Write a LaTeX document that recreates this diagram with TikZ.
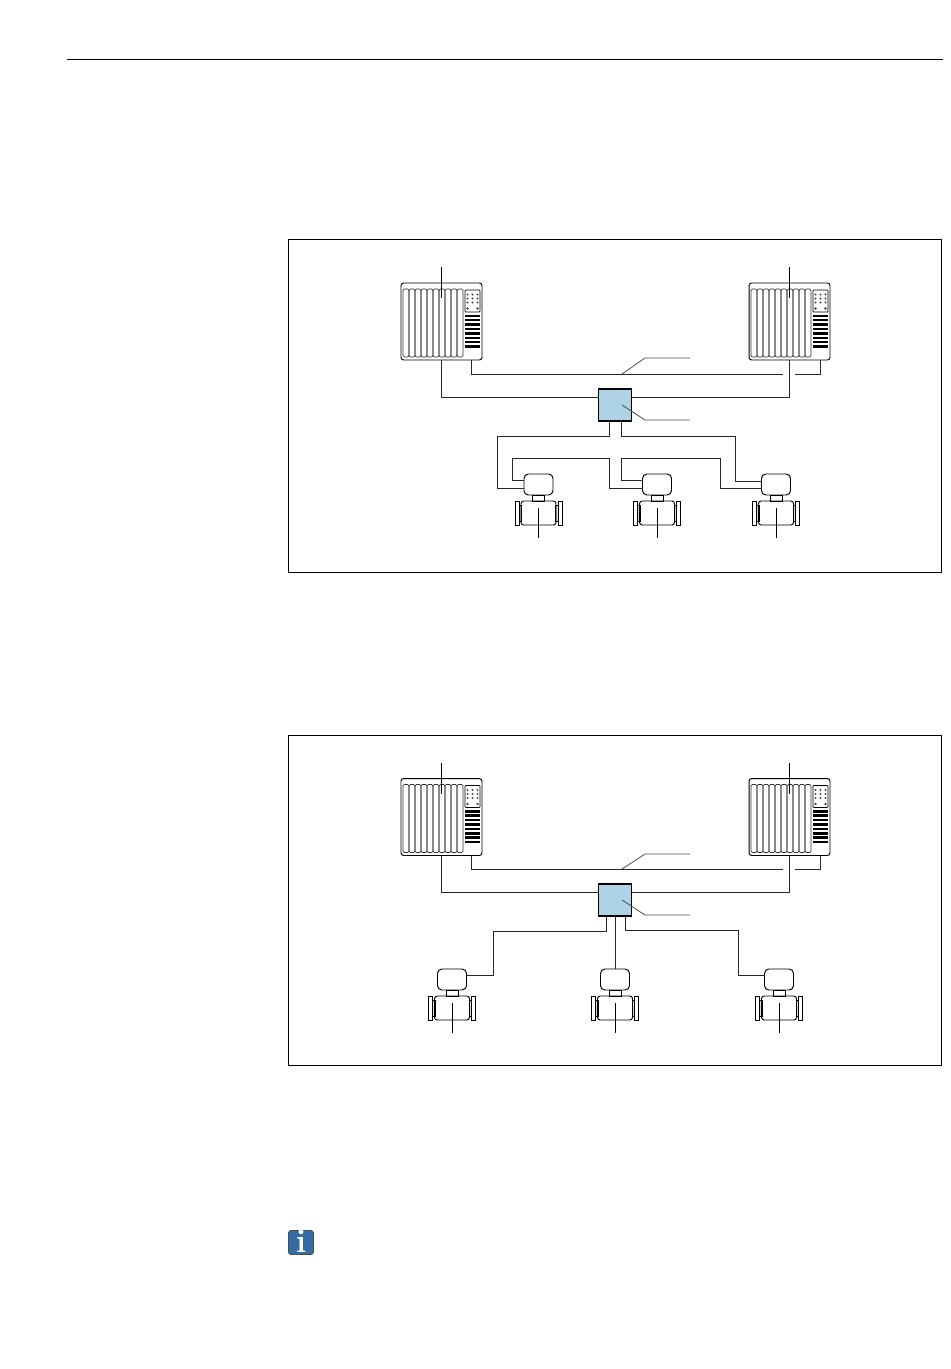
\documentclass[tikz,border=0pt]{standalone}
\usepackage{tikz}
\usetikzlibrary{positioning, arrows.meta, calc}
\definecolor{switchblue}{RGB}{174,210,230}
\definecolor{infoblue}{RGB}{54,108,164}
\tikzset{
	every node/.style={inner sep=0pt, outer sep=0pt},
	wire/.style={line width=0.5pt, black!85},
	leader/.style={line width=0.45pt, black!70},
	frameline/.style={line width=0.5pt, black},
	panelbox/.style={draw, line width=0.55pt, rounded corners=1.5pt, minimum width=1.62cm, minimum height=1.54cm},
	slotbox/.style={draw, line width=0.4pt, black!80, rounded corners=0.8pt, minimum width=0.12cm, minimum height=1.36cm},
	modulebox/.style={draw, line width=0.4pt, rounded corners=0.5pt, minimum width=0.3cm, minimum height=0.44cm},
	switchbox/.style={draw, line width=0.6pt, fill=switchblue, minimum width=0.66cm, minimum height=0.64cm},
	headbox/.style={draw, line width=0.55pt, rounded corners=2.5pt, minimum width=0.58cm, minimum height=0.42cm},
	neckbox/.style={draw, line width=0.5pt, minimum width=0.24cm, minimum height=0.12cm},
	bodybox/.style={draw, line width=0.55pt, rounded corners=1.5pt, minimum width=0.7cm, minimum height=0.48cm},
	flangebox/.style={draw, line width=0.55pt, fill=white, minimum width=0.08cm, minimum height=0.48cm},
	stubbox/.style={draw, line width=0.3pt, fill=black!15, minimum width=0.06cm, minimum height=0.32cm},
}
\begin{document}
\begin{tikzpicture}[x=0.02cm, y=-0.02cm]
	\useasboundingbox (0,0) rectangle (950,1369);
	
	% Page rule and frames
	\coordinate (ruleL) at (67,59);
	\coordinate (ruleR) at (943,59);
	\draw[frameline] (ruleL) -- (ruleR);
	\draw[frameline] (288.5,239) rectangle (941.5,572);
	\draw[frameline] (288.5,735) rectangle (941.5,1065);
	
	% Controllers
	\foreach \name/\x/\y in {ctrlA/441.5/321.5, ctrlB/789.5/321.5, ctrlC/441.5/817, ctrlD/789.5/817}{
		\node[panelbox] (\name) at (\x,\y) {};
		\foreach \i in {0,...,9}
		\node[slotbox] (\name slot\i) at ({\x-35.5+6*\i},\y+1.5) {};
		\node[modulebox] (\name mod) at (\x+31,\y-20.5) {};
		\foreach \i in {0,1,2}
		\foreach \j in {0,1,2}
		\fill[black!70] ({\x+26+5*\i},{\y-27+4*\j}) circle (1.2);
		\foreach \i in {0,1}
		\fill[black!70] ({\x+26+10*\i},\y-13) circle (1.4);
		\foreach \i in {0,...,7}
		\fill ({\x+23.5},{\y-7+4.4*\i}) rectangle ++(15,2.5);
		% leader into the controller
		\coordinate (\name tag) at (\x,\y-54.5);
		\draw[leader, black] (\name tag) -- ++(0,31);
	}
	
	% Switches
	\node[switchbox] (swA) at (615,405) {};
	\node[switchbox] (swB) at (615,900) {};
	
	% Transmitters
	\foreach \name/\x/\y in {tmA/538.5/484.5, tmB/657/484.5, tmC/776/484.5, tmD/452/979.5, tmE/615/979.5, tmF/779/979.5}{
		\node[headbox] (\name) at (\x,\y) {};
		\node[neckbox] (\name neck) at (\x,\y+13.5) {};
		\node[stubbox] (\name stubL) at (\x-18.5,\y+28.5) {};
		\node[stubbox] (\name stubR) at (\x+18.5,\y+28.5) {};
		\node[bodybox] (\name body) at (\x,\y+28.5) {};
		\node[flangebox] (\name flL) at (\x-21.5,\y+28.5) {};
		\node[flangebox] (\name flR) at (\x+21.5,\y+28.5) {};
		\coordinate (\name tag) at (\x,\y+53.5);
		\draw[leader, black] (\name tag) -- ++(0,-30);
	}
	
	% Fieldbus, upper picture
	\coordinate (swAwest) at ($(swA.north west)!0.25!(swA.south west)$);
	\coordinate (swAeast) at ($(swA.north east)!0.25!(swA.south east)$);
	\coordinate (swAl) at (609,421);
	\coordinate (swAr) at (621,421);
	\draw[wire] (ctrlA.south) |- (swAwest);
	\draw[wire] (ctrlB.south) |- (swAeast);
	\draw[wire] (ctrlA.south -| 471,360) |- (783,374);
	\draw[wire] (795,374) -| (ctrlB.south -| 820,360);
	\draw[wire] (swAl) -- (609,436) -| (497,488) -- (tmA.west |- 0,488);
	\draw[wire] (swAr) -- (621,436) -| (735,481) -- (tmC.west |- 0,481);
	\draw[wire] (tmA.west |- 0,480) -| (512,458) -| (609,488) -- (tmB.west |- 0,488);
	\draw[wire] (tmB.west |- 0,480) -| (621,458) -| (720,488) -- (tmC.west |- 0,488);
	
	% Fieldbus, lower picture
	\coordinate (swBwest) at ($(swB.north west)!0.25!(swB.south west)$);
	\coordinate (swBeast) at ($(swB.north east)!0.25!(swB.south east)$);
	\coordinate (swBl) at (606,916);
	\coordinate (swBr) at (625,916);
	\draw[wire] (ctrlC.south) |- (swBwest);
	\draw[wire] (ctrlD.south) |- (swBeast);
	\draw[wire] (ctrlC.south -| 471,855) |- (783,869);
	\draw[wire] (795,869) -| (ctrlD.south -| 820,855);
	\draw[wire] (swBl) -- (606,931) -| (493,975) -- (tmD.east |- 0,975);
	\draw[wire] (swB.south) -- (tmE.north);
	\draw[wire] (swBr) -- (625,930) -| (738,975) -- (tmF.west |- 0,975);
	
	% Leaders to the right
	\draw[leader] (622,374) -- (645,358) -- (690,358);
	\draw[leader] (622,405) -- (645,420) -- (690,420);
	\draw[leader] (622,869) -- (645,854) -- (690,854);
	\draw[leader] (622,900) -- (645,915) -- (690,915);
	
	% Info icon
	\node[fill=infoblue, draw=black!70, line width=0.5pt, rounded corners=1.5pt, minimum width=0.5cm, minimum height=0.48cm, text height=11.5pt, text depth=0pt, text=white, font=\fontsize{19}{19}\selectfont\bfseries] (info) at (301,1242.5) {i};
\end{tikzpicture}
\end{document}
